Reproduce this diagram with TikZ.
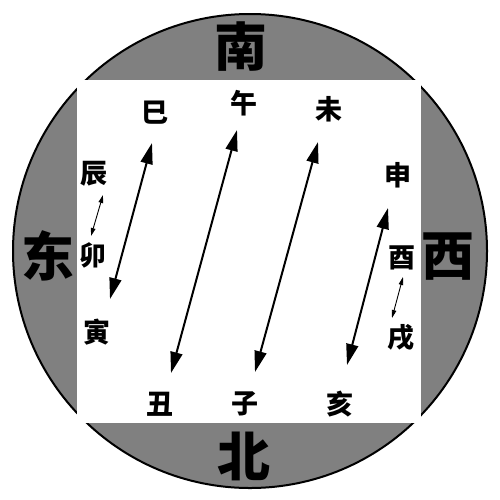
\documentclass[tikz,border=0pt]{standalone}
\usepackage{fontspec}
\newfontfamily\cjk{Noto Sans CJK SC}
\usetikzlibrary{arrows.meta}

\begin{document}
\begin{tikzpicture}[x=1pt,y=-1pt]
\tikzstyle{every node}+=[inner sep=0pt]
\tikzstyle{fang}=[font=\cjk\bfseries\fontsize{53}{53}\selectfont]
\tikzstyle{zhi}=[font=\cjk\bfseries\fontsize{27}{27}\selectfont]
\tikzstyle{chong}=[line width=2pt,{Triangle[length=21pt,width=12pt]}-{Triangle[length=21pt,width=12pt]}]
\tikzstyle{he}=[line width=0.9pt,{Triangle[length=8pt,width=4.5pt]}-{Triangle[length=8pt,width=4.5pt]}]
\useasboundingbox (0,0) rectangle (500,499);
\draw [black, line width=2pt, fill={rgb,255:red,128;green,128;blue,128}] (250,251) circle (237);
\fill [white] (77,80) rectangle (421,423);
% directions
\node [fang] (nan) at (241,47) {南};
\node [fang] (bei) at (244,456) {北};
\node [fang] (dong) at (48,256) {东};
\node [fang] (xi) at (448,257) {西};
% branches
\node [zhi] (si) at (155,113) {巳};
\node [zhi] (wu) at (244,103) {午};
\node [zhi] (wei) at (329,109) {未};
\node [zhi] (chen) at (94,174) {辰};
\node [zhi] (mao) at (93,255) {卯};
\node [zhi] (yin) at (97,332) {寅};
\node [zhi] (shen) at (398,175) {申};
\node [zhi] (you) at (402,258) {酉};
\node [zhi] (xu) at (401,338) {戌};
\node [zhi] (chou) at (160,404) {丑};
\node [zhi] (zi) at (245,404) {子};
\node [zhi] (hai) at (340,404) {亥};
% arrow ends
\coordinate (si-e) at (152,143);
\coordinate (yin-e) at (110,299);
\coordinate (wu-e) at (237,130);
\coordinate (chou-e) at (171,373);
\coordinate (wei-e) at (318,142);
\coordinate (zi-e) at (255,372);
\coordinate (shen-e) at (388,208);
\coordinate (hai-e) at (347,365);
\coordinate (chen-e) at (103,195);
\coordinate (mao-e) at (91,236);
\coordinate (you-e) at (403,277);
\coordinate (xu-e) at (392,318);
\draw [chong] (si-e) -- (yin-e);
\draw [chong] (wu-e) -- (chou-e);
\draw [chong] (wei-e) -- (zi-e);
\draw [chong] (shen-e) -- (hai-e);
\draw [he] (chen-e) -- (mao-e);
\draw [he] (you-e) -- (xu-e);
\end{tikzpicture}
\end{document}
